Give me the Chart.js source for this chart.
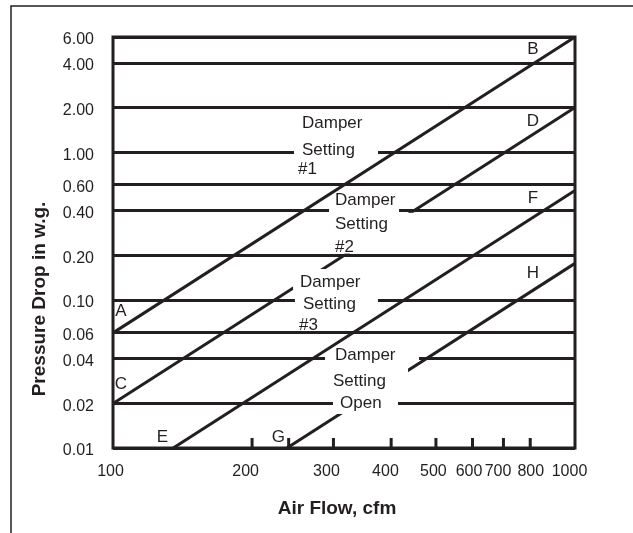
<!DOCTYPE html>
<html>
<head>
<meta charset="utf-8">
<script src="https://cdn.jsdelivr.net/npm/chart.js@4.4.0/dist/chart.umd.min.js"></script>
<style>
  html, body { margin: 0; padding: 0; background: #fff; }
  canvas { display: block; }
</style>
</head>
<body>
<canvas id="chart" width="633" height="533"></canvas>
<script>
const ink = "#231f20";
const fontFamily = "'Liberation Sans', Arial, Helvetica, sans-serif";

// axis ticks
const xTickLabels = [100, 200, 300, 400, 500, 600, 700, 800, 1000];
const xTickMarks = [200, 240, 300, 400, 500, 600, 700, 800];
const yTickValues = [0.01, 0.02, 0.04, 0.06, 0.1, 0.2, 0.4, 0.6, 1, 2, 4, 6];

// damper curves: air flow (cfm) vs pressure drop (in w.g.)
const flowAB = [100, 1000];
const dropAB = [0.06, 6];
const flowCD = [100, 1000];
const dropCD = [0.02, 2];
const flowEF = [135, 1000];
const dropEF = [0.01, 0.55];
const flowGH = [238, 1000];
const dropGH = [0.01, 0.177];

const toPoints = (xs, ys) => xs.map((x, i) => ({ x: x, y: ys[i] }));

// the x labels in the original sit a few px off their tick positions
const xLabelShift = [-2.5, -6.5, -7, -5.7, -2.5, -3.5, -5.4, 0.5, -5.5];

// curve end letters: [text, flow, drop]
const letters = [
  ["A", 104, 0.084], ["B", 811, 4.97], ["C", 104, 0.027], ["D", 811, 1.62],
  ["E", 128, 0.0118], ["F", 811, 0.486], ["G", 228, 0.0118], ["H", 811, 0.152]
];

// captions, left aligned at (flow, drop); box = white gap [dx0, dx1, dy0, dy1] in px
const captions = [
  { text: "Damper",  x: 256.5, y: 1.57 },
  { text: "Setting", x: 256.5, y: 1.03,   box: [-8, 76, -3, 6] },
  { text: "#1",      x: 251.5, y: 0.769 },

  { text: "Damper",  x: 302.4, y: 0.47,   box: [-6, 64, 4, 12.5] },
  { text: "Setting", x: 302.4, y: 0.324,  box: [-5, 79, -11.7, 13.5] },
  { text: "#2",      x: 302.4, y: 0.2275, box: [0, 45, -11.3, 6.4] },

  { text: "Damper",  x: 254,   y: 0.132,  box: [-7, 62, -13.2, 9.8] },
  { text: "Setting", x: 257.7, y: 0.0938, box: [-8, 75, -7, -1.5] },
  { text: "#3",      x: 252.6, y: 0.0671 },

  { text: "Damper",  x: 302.4, y: 0.0425, box: [-10, 84, 1, 6.8] },
  { text: "Setting", x: 299.4, y: 0.0281, box: [-7, 75, -13.7, 11.3] },
  { text: "Open",    x: 310,   y: 0.02,   box: [-7, 58, -11.5, 10.5] }
];

function curve(xs, ys) {
  return {
    data: toPoints(xs, ys),
    showLine: true,
    borderColor: ink,
    borderWidth: 3,
    pointRadius: 0,
    fill: false
  };
}

const decor = {
  id: "decor",
  beforeDraw(chart) {
    const c = chart.ctx;
    c.save();
    c.fillStyle = "#fff";
    c.fillRect(0, 0, chart.width, chart.height);
    c.strokeStyle = ink;
    c.lineWidth = 1.5;
    c.beginPath();
    c.moveTo(11, chart.height);
    c.lineTo(11, 6);
    c.lineTo(chart.width, 6);
    c.stroke();
    c.restore();
  },
  afterDatasetsDraw(chart) {
    const c = chart.ctx, xs = chart.scales.x, ys = chart.scales.y, a = chart.chartArea;
    c.save();

    // gaps in the lines behind the captions
    c.fillStyle = "#fff";
    captions.forEach(r => {
      if (!r.box) return;
      const px = xs.getPixelForValue(r.x), py = ys.getPixelForValue(r.y);
      c.fillRect(px + r.box[0], py + r.box[2], r.box[1] - r.box[0], r.box[3] - r.box[2]);
    });

    c.fillStyle = ink;
    c.font = "17px " + fontFamily;
    c.textBaseline = "middle";
    c.textAlign = "left";
    captions.forEach(r => c.fillText(r.text, xs.getPixelForValue(r.x), ys.getPixelForValue(r.y)));
    c.textAlign = "center";
    letters.forEach(l => c.fillText(l[0], xs.getPixelForValue(l[1]), ys.getPixelForValue(l[2])));

    // x tick labels
    c.font = "16px " + fontFamily;
    xTickLabels.forEach((v, i) => {
      c.fillText(String(v), xs.getPixelForValue(v) + xLabelShift[i], a.bottom + 24);
    });

    // plot frame and inward tick marks
    c.strokeStyle = ink;
    c.lineWidth = 3;
    c.strokeRect(a.left, a.top, a.right - a.left, a.bottom - a.top);
    c.beginPath();
    xTickMarks.forEach(v => {
      const px = xs.getPixelForValue(v);
      c.moveTo(px, a.bottom);
      c.lineTo(px, a.bottom - 10);
    });
    c.stroke();

    // axis titles
    c.font = "bold 19px " + fontFamily;
    c.textBaseline = "alphabetic";
    c.textAlign = "center";
    c.fillText("Air Flow, cfm", 337, 514);
    c.translate(45, 299);
    c.rotate(-Math.PI / 2);
    c.fillText("Pressure Drop in w.g.", 0, 0);
    c.restore();
  }
};

new Chart(document.getElementById("chart"), {
  type: "scatter",
  data: {
    datasets: [
      curve(flowAB, dropAB),
      curve(flowCD, dropCD),
      curve(flowEF, dropEF),
      curve(flowGH, dropGH)
    ]
  },
  options: {
    responsive: false,
    animation: false,
    events: [],
    layout: { padding: { left: 0, top: 37, right: 58, bottom: 0 } },
    plugins: { legend: { display: false }, tooltip: { enabled: false } },
    scales: {
      x: {
        type: "logarithmic",
        min: 100,
        max: 1000,
        afterBuildTicks: s => { s.ticks = xTickLabels.map(v => ({ value: v })); },
        afterFit: s => { s.height = 85; },
        grid: { display: false, drawTicks: false },
        border: { display: false },
        ticks: { display: false }
      },
      y: {
        type: "logarithmic",
        min: 0.01,
        max: 6,
        afterBuildTicks: s => { s.ticks = yTickValues.map(v => ({ value: v })); },
        afterFit: s => { s.width = 113; },
        grid: { color: ink, lineWidth: 3, drawTicks: false },
        border: { display: false },
        ticks: {
          autoSkip: false,
          padding: 19,
          labelOffset: 3,
          color: ink,
          font: { family: fontFamily, size: 16 },
          callback: v => v.toFixed(2)
        }
      }
    }
  },
  plugins: [decor]
});
</script>
</body>
</html>
